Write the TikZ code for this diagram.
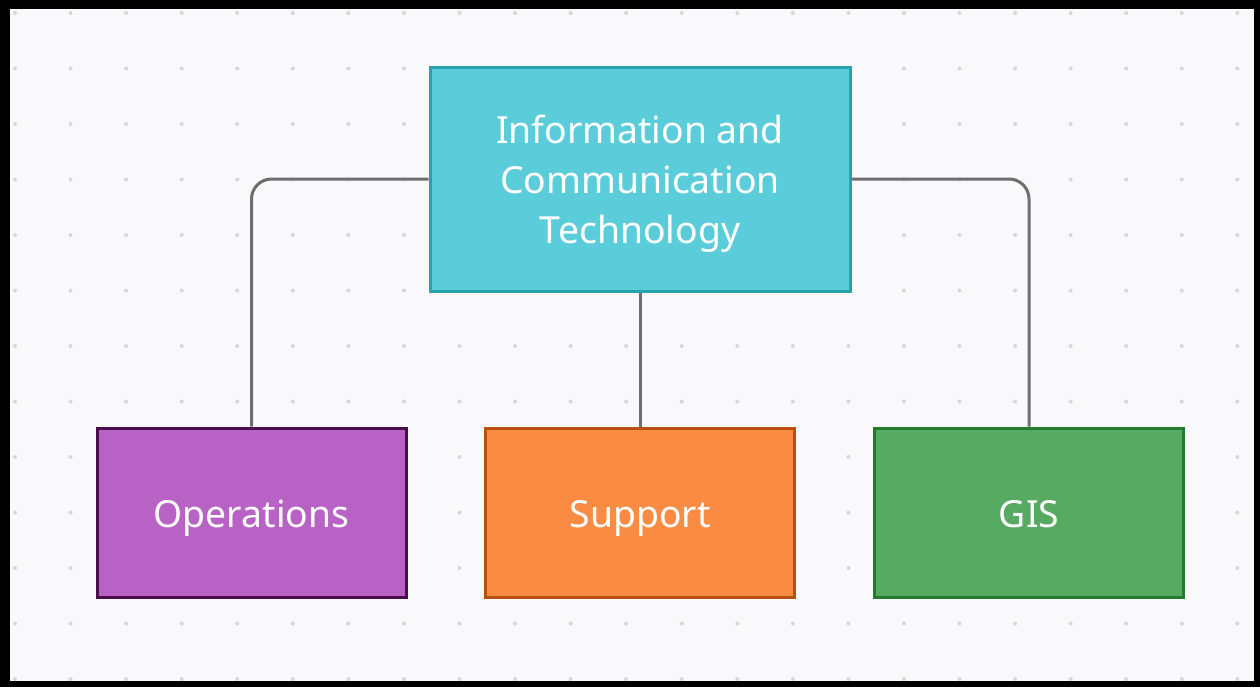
\documentclass[tikz,border=0pt]{standalone}
\usepackage{fontspec}
\setmainfont{Noto Sans}
\begin{document}
\definecolor{canvas}{HTML}{F9F9FB}
\definecolor{griddot}{HTML}{D6D6DB}
\definecolor{linkgray}{HTML}{6E6E6E}
\definecolor{tealfill}{HTML}{5BCDDA}
\definecolor{tealedge}{HTML}{2AA2AD}
\definecolor{purplefill}{HTML}{B862C6}
\definecolor{purpleedge}{HTML}{4A0E50}
\definecolor{orangefill}{HTML}{F98B43}
\definecolor{orangeedge}{HTML}{B9500F}
\definecolor{greenfill}{HTML}{57AA61}
\definecolor{greenedge}{HTML}{247A2E}
\begin{tikzpicture}[x=0.75pt,y=-0.75pt,
  box/.style={rectangle, line width=2.25pt, text=white, align=center,
    font=\fontsize{28}{37.5}\selectfont, inner sep=0pt},
  headbox/.style={box, fill=tealfill, draw=tealedge, text depth=0pt,
    minimum width=315pt, minimum height=168pt},
  unitbox/.style={box, text height=21.75pt, text depth=0pt,
    minimum width=231.75pt, minimum height=126.75pt},
  conn/.style={draw=linkgray, line width=2.25pt, rounded corners=15pt}]
  % frame and canvas
  \fill[black] (0,0) rectangle (1260,687);
  \fill[canvas] (10,9) rectangle (1254,681);
  \useasboundingbox (0,0) rectangle (1260,687);
  % dotted grid
  \begin{scope}
    \clip (10,9) rectangle (1254,681);
    \foreach \i in {0,...,22}{
      \foreach \j in {0,...,12}{
        \fill[griddot] ({15+55.56*\i},{13+55.5*\j}) circle (2);
      }
    }
  \end{scope}
  % boxes
  \node[headbox] (ict) at (640,179) {Information and\\Communication\\Technology};
  \node[unitbox, fill=purplefill, draw=purpleedge] (ops) at (251.5,512.5) {Operations};
  \node[unitbox, fill=orangefill, draw=orangeedge] (sup) at (640,512.5) {Support};
  \node[unitbox, fill=greenfill, draw=greenedge] (gis) at (1029,512.5) {GIS};
  % connectors
  \draw[conn] (ict.west) -| (ops.north);
  \draw[conn] (ict.south) -- (sup.north);
  \draw[conn] (ict.east) -| (gis.north);
\end{tikzpicture}
\end{document}
